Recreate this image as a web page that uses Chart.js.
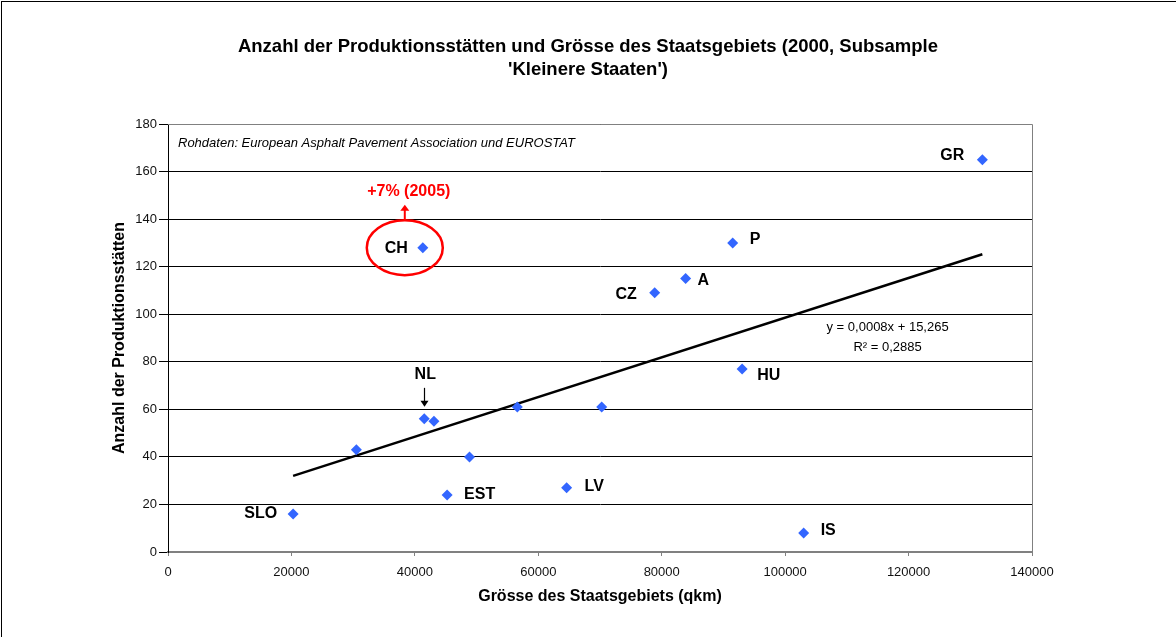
<!DOCTYPE html>
<html><head><meta charset="utf-8">
<script src="https://cdn.jsdelivr.net/npm/chart.js@4/dist/chart.umd.min.js"></script>
<style>
html,body{margin:0;padding:0;background:#fff;overflow:hidden}
#wrap{position:relative;width:1176px;height:637px}
#frame{position:absolute;left:1px;top:1px;width:1300px;height:700px;border-left:1px solid #000;border-top:1px solid #000;pointer-events:none}
canvas{position:absolute;left:0;top:0}
</style></head><body>
<div id="wrap"><canvas id="c" width="1176" height="637"></canvas><div id="frame"></div></div>
<script>
// ---- data ----
const pointLabels = ['SLO','','NL','','EST','','','LV','','CZ','A','P','HU','IS','GR','CH'];
const areaQkm   = [20273,30528,41526,43094,45227,48850,56600,64589,70273,78866,83871,91500,93030,103000,131957,41285];
const plants    = [16,43,56,55,24,40,61,27,61,109,115,130,77,8,165,128];
const trendX    = [20273,131957];
const trendY    = [32.0,125.2];
const xTicks    = [0,20000,40000,60000,80000,100000,120000,140000];
const yTicks    = [0,20,40,60,80,100,120,140,160,180];
const titleLines = ['Anzahl der Produktionsstätten und Grösse des Staatsgebiets (2000, Subsample', "'Kleinere Staaten')"];
const xTitle = 'Grösse des Staatsgebiets (qkm)';
const yTitle = 'Anzahl der Produktionsstätten';
const sourceNote = 'Rohdaten: European Asphalt Pavement Association und EUROSTAT';
const eqLines = ['y = 0,0008x + 15,265', 'R² = 0,2885'];
const chNote = '+7% (2005)';

// ---- styles / label placement ----
const FONT = "'Liberation Sans', Arial, sans-serif";
const labelStyle = {
  SLO:{dx:-16,dy:0,align:'right'}, EST:{dx:17,dy:0,align:'left'}, LV:{dx:18,dy:-1,align:'left'},
  CZ:{dx:-18,dy:2,align:'right'}, A:{dx:12,dy:2,align:'left'}, P:{dx:17,dy:-3,align:'left'},
  HU:{dx:15,dy:7,align:'left'}, IS:{dx:17,dy:-2,align:'left'}, GR:{dx:-18,dy:-4,align:'right'},
  CH:{dx:-15,dy:1,align:'right'}, NL:{dx:1,dy:-44,align:'center'}
};
const eqPos = {x:116600, y1:94.4, y2:86.0};

const annot = {
  id:'annot',
  beforeDatasetsDraw(chart){
    const {ctx, chartArea:a} = chart;
    ctx.save();
    ctx.strokeStyle = '#808080'; ctx.lineWidth = 1;
    ctx.beginPath();
    ctx.moveTo(a.left, a.top+0.5); ctx.lineTo(a.right+0.5, a.top+0.5); ctx.lineTo(a.right+0.5, a.bottom);
    ctx.stroke();
    ctx.restore();
  },
  afterDatasetsDraw(chart){
    const {ctx, chartArea:a, scales} = chart;
    const meta = chart.getDatasetMeta(0);
    ctx.save();
    // title
    ctx.fillStyle = '#000';
    ctx.textBaseline = 'middle';
    ctx.textAlign = 'center';
    ctx.font = 'bold 18.5px ' + FONT;
    ctx.fillText(titleLines[0], chart.width/2, 47);
    ctx.fillText(titleLines[1], chart.width/2, 70);
    // point labels
    ctx.font = 'bold 16px ' + FONT;
    let chPt = null, nlPt = null;
    pointLabels.forEach((lab,i)=>{
      if(!lab) return;
      const p = meta.data[i];
      const s = labelStyle[lab];
      ctx.textAlign = s.align;
      ctx.fillText(lab, p.x + s.dx, p.y + s.dy);
      if(lab==='CH') chPt = p;
      if(lab==='NL') nlPt = p;
    });
    // NL arrow
    if(nlPt){
      const x = Math.round(nlPt.x)+0.5;
      ctx.strokeStyle = '#000'; ctx.lineWidth = 1.2;
      ctx.beginPath(); ctx.moveTo(x, nlPt.y-31); ctx.lineTo(x, nlPt.y-16); ctx.stroke();
      ctx.beginPath(); ctx.moveTo(x-4, nlPt.y-18); ctx.lineTo(x+4, nlPt.y-18); ctx.lineTo(x, nlPt.y-12); ctx.closePath(); ctx.fill();
    }
    // CH ellipse, arrow, note
    if(chPt){
      const cx = chPt.x - 18, cy = chPt.y;
      ctx.strokeStyle = '#FF0000'; ctx.lineWidth = 2.5;
      ctx.beginPath(); ctx.ellipse(cx, cy, 38, 27.5, 0, 0, Math.PI*2); ctx.stroke();
      ctx.lineWidth = 2;
      ctx.beginPath(); ctx.moveTo(cx, cy-28); ctx.lineTo(cx, cy-38); ctx.stroke();
      ctx.fillStyle = '#FF0000';
      ctx.beginPath(); ctx.moveTo(cx-4.5, cy-37); ctx.lineTo(cx+4.5, cy-37); ctx.lineTo(cx, cy-43); ctx.closePath(); ctx.fill();
      ctx.font = 'bold 16px ' + FONT; ctx.textAlign = 'center';
      ctx.fillText(chNote, cx+4, cy-56);
    }
    // source note
    ctx.fillStyle = '#000';
    ctx.font = 'italic 13px ' + FONT; ctx.textAlign = 'left';
    ctx.fillText(sourceNote, a.left + 10, a.top + 19);
    // equation
    ctx.font = '13px ' + FONT; ctx.textAlign = 'center';
    const ex = scales.x.getPixelForValue(eqPos.x);
    ctx.fillText(eqLines[0], ex, scales.y.getPixelForValue(eqPos.y1));
    ctx.fillText(eqLines[1], ex, scales.y.getPixelForValue(eqPos.y2));
    ctx.restore();
  }
};

new Chart(document.getElementById('c'), {
  data:{
    datasets:[
      {type:'scatter', data: areaQkm.map((x,i)=>({x, y:plants[i]})), pointStyle:'rectRot', pointRadius:5.5,
       backgroundColor:'#3366FF', borderColor:'#3366FF', borderWidth:0, order:0},
      {type:'line', data: trendX.map((x,i)=>({x, y:trendY[i]})), borderColor:'#000', borderWidth:2.5,
       pointRadius:0, fill:false, order:1}
    ]
  },
  options:{
    responsive:false, animation:false,
    layout:{padding:{left:0,right:144,top:124,bottom:0}},
    plugins:{
      legend:{display:false}, tooltip:{enabled:false}, title:{display:false}
    },
    scales:{
      x:{type:'linear', min:0, max:140000,
         afterBuildTicks(s){ s.ticks = xTicks.map(v=>({value:v})); },
         afterFit(s){ s.height = 85; },
         ticks:{color:'#111', font:{family:FONT,size:13}, padding:9, maxRotation:0, callback:v=>String(v)},
         grid:{drawOnChartArea:false, drawTicks:true, tickLength:4, color:'#808080'},
         border:{color:'#808080', width:2},
         title:{display:true, text:xTitle, color:'#000', font:{family:FONT,size:16,weight:'bold'}, padding:{top:0,bottom:30.4}}
      },
      y:{type:'linear', min:0, max:180,
         afterBuildTicks(s){ s.ticks = yTicks.map(v=>({value:v})); },
         afterFit(s){ s.width = 168; },
         ticks:{color:'#111', font:{family:FONT,size:13}, padding:2},
         grid:{drawTicks:true, tickLength:9, color:'#000', lineWidth:1},
         border:{color:'#000', width:1},
         title:{display:true, text:yTitle, color:'#000', font:{family:FONT,size:16,weight:'bold'}, padding:{top:110.4,bottom:0}}
      }
    }
  },
  plugins:[annot]
});
</script>
</body></html>
